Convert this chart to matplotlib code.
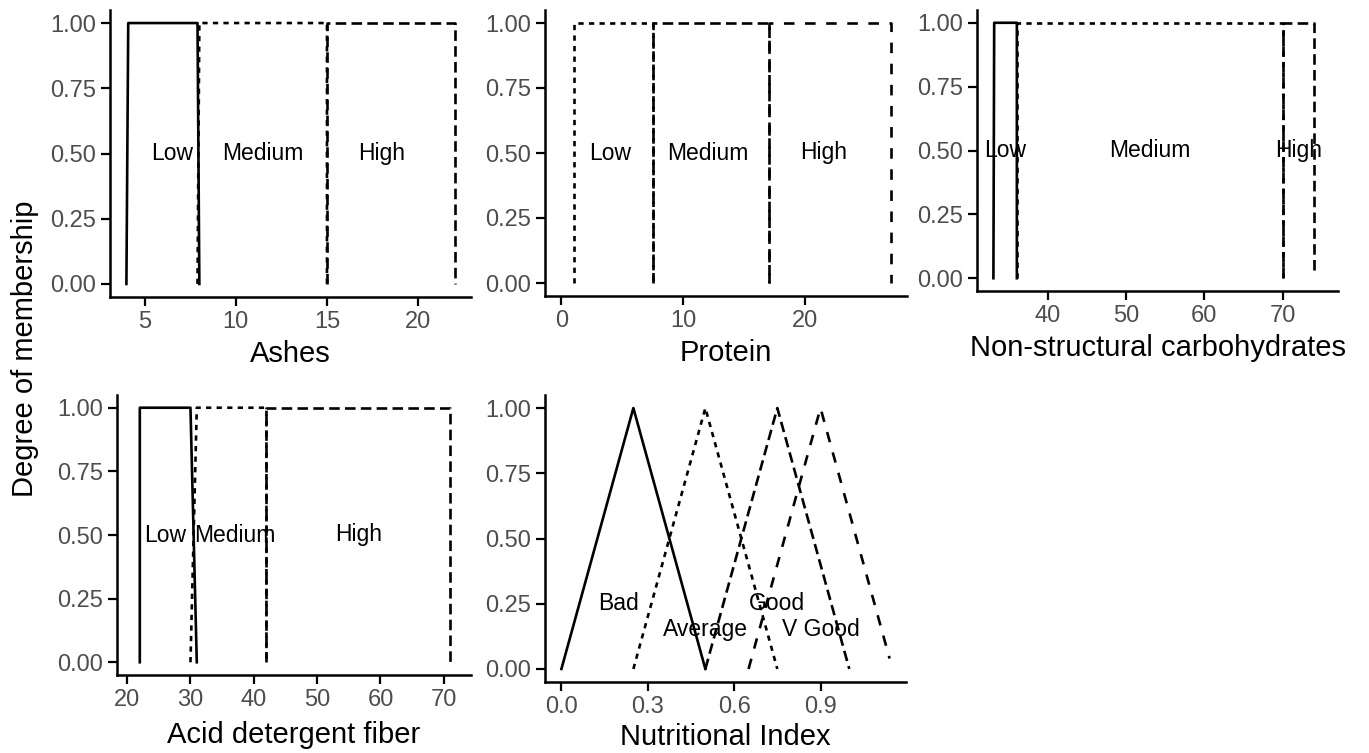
import matplotlib
matplotlib.use("Agg")
import matplotlib.pyplot as plt

plt.rcParams["font.family"] = ["Liberation Sans", "DejaVu Sans"]

# membership functions (x, y) per set
ashes_low_x = [4, 4.1, 7.9, 8];     ashes_low_y = [0, 1, 1, 0]
ashes_med_x = [7.9, 8, 15, 15];     ashes_med_y = [0, 1, 1, 0]
ashes_high_x = [15, 15, 22, 22];    ashes_high_y = [0, 1, 1, 0]

prot_low_x = [1, 1, 7.5, 7.5];      prot_low_y = [0, 1, 1, 0]
prot_med_x = [7.5, 7.5, 17, 17];    prot_med_y = [0, 1, 1, 0]
prot_high_x = [17, 17, 27, 27];     prot_high_y = [0, 1, 1, 0]

nsc_low_x = [33, 33.1, 36, 36];     nsc_low_y = [0, 1, 1, 0]
nsc_med_x = [36, 36, 70, 70];       nsc_med_y = [0, 1, 1, 0]
nsc_high_x = [70, 70, 74, 74];      nsc_high_y = [0, 1, 1, 0.03]

adf_low_x = [22, 22, 30, 31];       adf_low_y = [0, 1, 1, 0]
adf_med_x = [30, 31, 42, 42];       adf_med_y = [0, 1, 1, 0]
adf_high_x = [42, 42, 71, 71];      adf_high_y = [0, 1, 1, 0]

ni_bad_x = [0, 0.25, 0.5];          ni_bad_y = [0, 1, 0]
ni_avg_x = [0.25, 0.5, 0.75];       ni_avg_y = [0, 1, 0]
ni_good_x = [0.5, 0.75, 1.0];       ni_good_y = [0, 1, 0]
ni_vgood_x = [0.65, 0.9, 1.14];     ni_vgood_y = [0, 1, 0.04]

# label positions
lmh = ["Low", "Medium", "High"]
ashes_lab_x = [6.5, 11.5, 18]
prot_lab_x = [4, 12, 21.5]
nsc_lab_x = [34.5, 53, 72]
adf_lab_x = [26, 37, 56.5]
ni_labels = ["Bad", "Average", "Good", "V Good"]
ni_lab_x = [0.2, 0.5, 0.75, 0.9]
ni_lab_y = [0.25, 0.15, 0.25, 0.15]

yticks = [0, 0.25, 0.5, 0.75, 1.0]

W, H = 1369, 753
fig = plt.figure(figsize=(W / 100, H / 100), dpi=100)

LW = 1.9
STY = {"solid": "-", "22": (0, (2, 2)), "42": (0, (4, 2)), "44": (0, (4, 4))}


def panel(l, t, r, b, xlim, xticks, xlabel, lpad=5):
    ax = fig.add_axes([l / W, 1 - b / H, (r - l) / W, (b - t) / H])
    ax.set_xlim(*xlim)
    ax.set_ylim(-0.05, 1.05)
    ax.set_xticks(xticks)
    ax.set_yticks(yticks)
    ax.set_yticklabels(["0.00", "0.25", "0.50", "0.75", "1.00"])
    for s in ("top", "right"):
        ax.spines[s].set_visible(False)
    for s in ("left", "bottom"):
        ax.spines[s].set_linewidth(1.8)
    ax.tick_params(width=1.6, length=6.5, labelsize=17, labelcolor="#4D4D4D", pad=3.5)
    ax.set_xlabel(xlabel, fontsize=21, labelpad=lpad)
    return ax


def sets(ax, xs, ys, styles):
    for x, y, st in zip(xs, ys, styles):
        ax.plot(x, y, color="black", lw=LW, linestyle=STY[st])


def labels(ax, xs, ys, texts):
    for x, y, s in zip(xs, ys, texts):
        ax.text(x, y, s, ha="center", va="center", fontsize=16.5)


ax1 = panel(110, 10, 471, 297, (3.1, 22.9), [5, 10, 15, 20], "Ashes")
sets(ax1, [ashes_low_x, ashes_med_x, ashes_high_x],
     [ashes_low_y, ashes_med_y, ashes_high_y], ["solid", "22", "42"])
labels(ax1, ashes_lab_x, [0.5] * 3, lmh)

ax2 = panel(545, 10, 907, 296, (-1.35, 28.35), [0, 10, 20], "Protein")
sets(ax2, [prot_low_x, prot_med_x, prot_high_x],
     [prot_low_y, prot_med_y, prot_high_y], ["22", "42", "44"])
labels(ax2, prot_lab_x, [0.5] * 3, lmh)

ax3 = panel(977, 10, 1338, 291, (30.9, 77.1), [40, 50, 60, 70],
            "Non-structural carbohydrates")
sets(ax3, [nsc_low_x, nsc_med_x, nsc_high_x],
     [nsc_low_y, nsc_med_y, nsc_high_y], ["solid", "22", "42"])
labels(ax3, nsc_lab_x, [0.5] * 3, lmh)

ax4 = panel(117, 395, 471, 675, (18.4, 74.3), [20, 30, 40, 50, 60, 70],
            "Acid detergent fiber", lpad=7)
sets(ax4, [adf_low_x, adf_med_x, adf_high_x],
     [adf_low_y, adf_med_y, adf_high_y], ["solid", "22", "42"])
labels(ax4, adf_lab_x, [0.5] * 3, lmh)

ax5 = panel(545, 395, 906, 682, (-0.057, 1.197), [0.0, 0.3, 0.6, 0.9],
            "Nutritional Index", lpad=4)
ax5.set_xticklabels(["0.0", "0.3", "0.6", "0.9"])
sets(ax5, [ni_bad_x, ni_avg_x, ni_good_x, ni_vgood_x],
     [ni_bad_y, ni_avg_y, ni_good_y, ni_vgood_y], ["solid", "22", "42", "44"])
labels(ax5, ni_lab_x, ni_lab_y, ni_labels)

fig.text(25 / W, 1 - 349 / H, "Degree of membership", rotation=90,
         ha="center", va="center", fontsize=21)

fig.savefig("out.png", dpi=100)
